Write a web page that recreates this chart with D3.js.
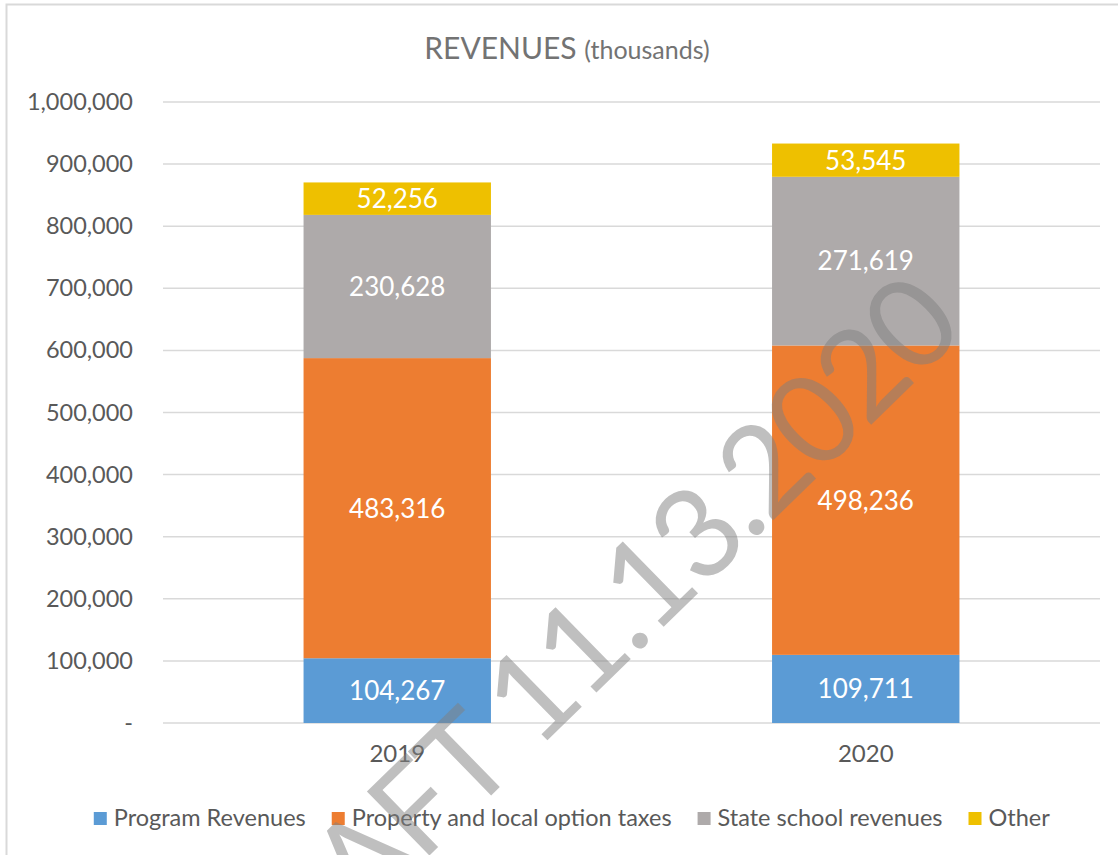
<!DOCTYPE html>
<html>
<head>
<meta charset="utf-8">
<script src="https://cdn.jsdelivr.net/npm/d3@7"></script>
<style>
  body { margin: 0; background: #fff; }
  text { font-family: Lato, "Noto Sans", sans-serif; }
</style>
</head>
<body>
<div id="chart"></div>
<script>
const years = ["2019", "2020"]
const seriesNames = ["Program Revenues", "Property and local option taxes", "State school revenues", "Other"]
const programRevenues = [104267, 109711]
const propertyTaxes = [483316, 498236]
const stateSchool = [230628, 271619]
const other = [52256, 53545]
const yTicks = [0, 100000, 200000, 300000, 400000, 500000, 600000, 700000, 800000, 900000, 1000000]
const colors = ["#5B9BD5", "#ED7D31", "#AEAAAA", "#EEC000"]

const width = 1118, height = 855
const plot = { left: 163, right: 1100, top: 102, bottom: 723 }

// rows for the stack
const rows = years.map((y, i) => ({
  year: y,
  "Program Revenues": programRevenues[i],
  "Property and local option taxes": propertyTaxes[i],
  "State school revenues": stateSchool[i],
  "Other": other[i]
}))

const svg = d3.select("#chart").append("svg")
    .attr("width", width)
    .attr("height", height)

// Border
svg.append("rect")
    .attr("x", 6.5).attr("y", 4.5)
    .attr("width", 1200).attr("height", 900)
    .attr("fill", "#fff")
    .attr("stroke", "#D9D9D9")
    .attr("stroke-width", 2)

const x = d3.scaleBand()
    .domain(years)
    .range([plot.left, plot.right])
    .paddingInner(0.6)
    .paddingOuter(0.3)

const y = d3.scaleLinear()
    .domain([0, 1000000])
    .range([plot.bottom, plot.top])

// Title
const title = svg.append("text")
    .attr("x", 567).attr("y", 59)
    .attr("text-anchor", "middle")
    .attr("fill", "#737373")
title.append("tspan").attr("font-size", 30).text("REVENUES ")
title.append("tspan").attr("font-size", 25).text("(thousands)")

// Gridlines
svg.append("g")
  .selectAll("line").data(yTicks).enter()
    .append("line")
    .attr("x1", plot.left).attr("x2", plot.right)
    .attr("y1", d => y(d)).attr("y2", d => y(d))
    .attr("stroke", "#D9D9D9")
    .attr("stroke-width", 1.5)

// Y axis labels
const fmt = d3.format(",")
const yAxis = svg.append("g")
    .attr("transform", `translate(${plot.left - 30},0)`)
    .call(d3.axisLeft(y).tickValues(yTicks).tickSize(0).tickPadding(0)
      .tickFormat(d => d === 0 ? "-" : fmt(d)))
yAxis.select(".domain").remove()
yAxis.selectAll("text")
    .attr("font-family", "Lato, sans-serif")
    .attr("font-size", 23.5)
    .attr("fill", "#595959")

// Bars
const stack = d3.stack().keys(seriesNames)(rows)

const layer = svg.append("g")
  .selectAll("g").data(stack).enter()
    .append("g")
    .attr("fill", (d, i) => colors[i])

layer.selectAll("rect").data(d => d).enter()
    .append("rect")
    .attr("x", d => x(d.data.year))
    .attr("width", x.bandwidth())
    .attr("y", d => y(d[1]))
    .attr("height", d => y(d[0]) - y(d[1]))

layer.selectAll("text").data(d => d).enter()
    .append("text")
    .attr("x", d => x(d.data.year) + x.bandwidth() / 2)
    .attr("y", d => (y(d[0]) + y(d[1])) / 2)
    .attr("dy", "0.36em")
    .attr("text-anchor", "middle")
    .attr("font-size", 26)
    .attr("fill", "#fff")
    .text(d => fmt(d[1] - d[0]))

// X axis labels
const xAxis = svg.append("g")
    .attr("transform", `translate(0,${plot.bottom + 22})`)
    .call(d3.axisBottom(x).tickSize(0).tickPadding(0))
xAxis.select(".domain").remove()
xAxis.selectAll("text")
    .attr("font-family", "Lato, sans-serif")
    .attr("font-size", 24)
    .attr("fill", "#595959")

// Legend
const legend = svg.append("g")
const items = legend.selectAll("g").data(seriesNames).enter().append("g")
items.append("rect")
    .attr("width", 13).attr("height", 13)
    .attr("y", 812)
    .attr("fill", (d, i) => colors[i])
items.append("text")
    .attr("x", 20).attr("y", 826)
    .attr("font-size", 23.5)
    .attr("fill", "#595959")
    .text(d => d)

let widths = []
items.each(function() { widths.push(this.getBBox().width) })
const gap = 26
const total = d3.sum(widths) + gap * (widths.length - 1)
let pos = 572 - total / 2
items.attr("transform", (d, i) => {
  const t = `translate(${pos},0)`
  pos += widths[i] + gap
  return t
})

// Watermark
svg.append("text")
    .attr("transform", "translate(965,333) rotate(-44.3)")
    .attr("text-anchor", "end")
    .attr("font-size", 125)
    .attr("letter-spacing", -4)
    .attr("fill", "#7F7F7F")
    .attr("fill-opacity", 0.5)
    .text("DRAFT 11.13.2020")
</script>
</body>
</html>
